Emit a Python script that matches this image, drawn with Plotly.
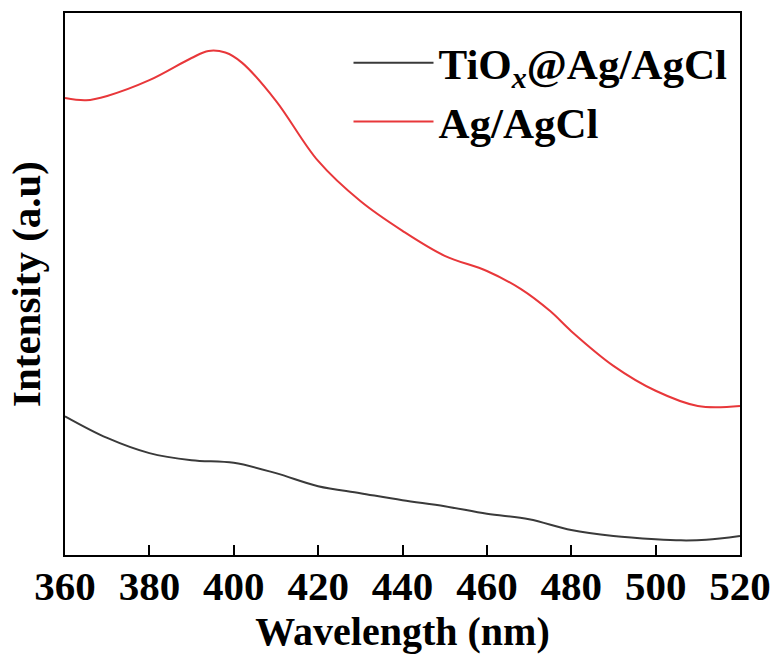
import plotly.graph_objects as go

wl_red = [360, 365, 370, 380, 390, 394, 398, 402, 410, 420, 430, 440, 450, 460, 468, 475, 480, 490, 500, 510, 520]
ag_agcl = [0.843, 0.839, 0.847, 0.876, 0.917, 0.930, 0.927, 0.908, 0.838, 0.727, 0.653, 0.598, 0.552, 0.524, 0.491, 0.450, 0.413, 0.349, 0.303, 0.275, 0.275]

wl_black = [360, 370, 380, 390, 400, 410, 420, 430, 440, 450, 460, 470, 480, 490, 500, 506, 512, 520]
tiox_ag_agcl = [0.256, 0.216, 0.188, 0.175, 0.170, 0.151, 0.127, 0.114, 0.101, 0.090, 0.076, 0.066, 0.046, 0.035, 0.029, 0.027, 0.028, 0.035]

x_ticks = [360, 380, 400, 420, 440, 460, 480, 500, 520]

font_family = "Liberation Serif"

fig = go.Figure()
fig.add_trace(go.Scatter(x=wl_black, y=tiox_ag_agcl, mode="lines",
                         line=dict(color="#3a3a3a", width=2, shape="spline"),
                         name="<b>TiO<sub><i>x</i></sub>@Ag/AgCl</b>"))
fig.add_trace(go.Scatter(x=wl_red, y=ag_agcl, mode="lines",
                         line=dict(color="#e8373a", width=2, shape="spline"),
                         name="<b>Ag/AgCl</b>"))

fig.update_layout(
    width=777, height=657,
    margin=dict(l=65, r=37, t=13, b=102, autoexpand=False),
    plot_bgcolor="white", paper_bgcolor="white",
    font=dict(family=font_family, color="black"),
    showlegend=True,
    legend=dict(x=0.42, y=0.972, xanchor="left", yanchor="top",
                font=dict(family=font_family, size=43, color="black"),
                bgcolor="rgba(0,0,0,0)", itemwidth=80, tracegroupgap=0),
    xaxis=dict(range=[360, 520], tickvals=x_ticks, ticks="inside", ticklen=10,
               tickwidth=2, tickcolor="black", automargin=False,
               ticklabelstandoff=-6,
               showline=True, linecolor="black", linewidth=2, mirror=True,
               showgrid=False, zeroline=False,
               tickfont=dict(family=font_family, size=41, color="black", weight="bold"),
               title=dict(text="<b>Wavelength (nm)</b>", standoff=4,
                          font=dict(family=font_family, size=40, color="black"))),
    yaxis=dict(range=[0, 1], showticklabels=False, ticks="", automargin=False,
               showline=True, linecolor="black", linewidth=2, mirror=True,
               showgrid=False, zeroline=False,
               title=dict(text="<b>Intensity (a.u)</b>", standoff=10,
                          font=dict(family=font_family, size=41, color="black"))),
)

fig.write_html("out.html")
